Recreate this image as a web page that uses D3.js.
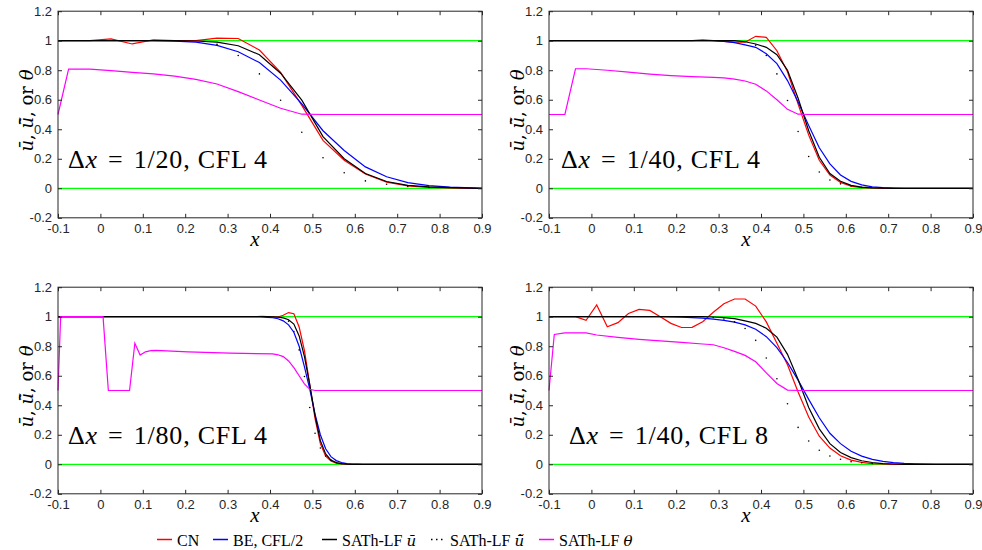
<!DOCTYPE html>
<html><head><meta charset="utf-8">
<script src="https://cdn.jsdelivr.net/npm/d3@7"></script>
<style>body{margin:0;background:#fff} svg{display:block}</style>
</head><body>
<script>
// ---------- axis ticks ----------
const xTicks = [-0.1, 0, 0.1, 0.2, 0.3, 0.4, 0.5, 0.6, 0.7, 0.8, 0.9];
const yTicks = [-0.2, 0, 0.2, 0.4, 0.6, 0.8, 1, 1.2];

// ---------- panel titles ----------
const panelDx = ["1/20", "1/40", "1/80", "1/40"];
const panelCfl = ["4", "4", "4", "8"];

// ---------- bounds (green) ----------
const boundLow = [[-0.1, 0], [0.9, 0]];
const boundHigh = [[-0.1, 1], [0.9, 1]];

// ---------- panel 1: dx = 1/20, CFL 4 ----------
const cn1 = [[-0.1,1],[-0.075,1],[-0.025,1],[0.025,1.012],[0.075,0.978],[0.125,1.005],[0.175,1.0],[0.225,1.0],[0.275,1.018],[0.325,1.015],[0.375,0.937],[0.425,0.785],[0.475,0.562],[0.525,0.325],[0.575,0.19],[0.625,0.097],[0.675,0.042],[0.725,0.016],[0.775,0.006],[0.825,0.002],[0.875,0.0],[0.9,0]];
const be1 = [[-0.1,1],[0.125,1.0],[0.175,0.997],[0.225,0.99],[0.275,0.968],[0.325,0.925],[0.375,0.852],[0.425,0.733],[0.475,0.572],[0.525,0.39],[0.575,0.256],[0.625,0.145],[0.675,0.078],[0.725,0.038],[0.775,0.018],[0.825,0.008],[0.875,0.003],[0.9,0]];
const sath1 = [[-0.1,1],[0.175,1.0],[0.225,0.998],[0.275,0.99],[0.325,0.966],[0.375,0.905],[0.425,0.78],[0.475,0.597],[0.525,0.35],[0.575,0.2],[0.625,0.1],[0.675,0.046],[0.725,0.02],[0.775,0.009],[0.825,0.004],[0.875,0.001],[0.9,0]];
const tilde1 = [[0.275,0.975],[0.325,0.9],[0.375,0.775],[0.425,0.597],[0.475,0.38],[0.525,0.207],[0.575,0.105],[0.625,0.05],[0.675,0.027],[0.725,0.012],[0.775,0.006]];
const theta1 = [[-0.1,0.5],[-0.075,0.808],[-0.025,0.808],[0.025,0.797],[0.075,0.785],[0.125,0.775],[0.175,0.76],[0.225,0.738],[0.275,0.707],[0.325,0.655],[0.375,0.598],[0.425,0.542],[0.475,0.502],[0.525,0.5],[0.9,0.5]];

// ---------- panel 2: dx = 1/40, CFL 4 ----------
const cn2 = [[-0.1,1],[0.2375,1.0],[0.2625,1.005],[0.2875,1.0],[0.3125,0.995],[0.3375,0.99],[0.3625,0.99],[0.3875,1.03],[0.4125,1.023],[0.4375,0.932],[0.4625,0.79],[0.4875,0.57],[0.5125,0.36],[0.5375,0.19],[0.5625,0.09],[0.5875,0.04],[0.6125,0.015],[0.6375,0.005],[0.6625,0.002],[0.6875,0],[0.9,0]];
const be2 = [[-0.1,1],[0.2875,1.0],[0.3125,0.995],[0.3375,0.987],[0.3625,0.972],[0.3875,0.955],[0.4125,0.912],[0.4375,0.845],[0.4625,0.73],[0.4875,0.585],[0.5125,0.425],[0.5375,0.275],[0.5625,0.165],[0.5875,0.09],[0.6125,0.047],[0.6375,0.023],[0.6625,0.01],[0.6875,0.004],[0.7125,0.002],[0.7375,0],[0.9,0]];
const sath2 = [[-0.1,1],[0.3375,1.0],[0.3625,0.993],[0.3875,0.978],[0.4125,0.955],[0.4375,0.905],[0.4625,0.8],[0.4875,0.61],[0.5125,0.39],[0.5375,0.21],[0.5625,0.1],[0.5875,0.048],[0.6125,0.02],[0.6375,0.008],[0.6625,0.003],[0.6875,0.001],[0.7125,0],[0.9,0]];
const tilde2 = [[0.3875,0.97],[0.4125,0.9],[0.4375,0.775],[0.4625,0.595],[0.4875,0.385],[0.5125,0.215],[0.5375,0.11],[0.5625,0.056],[0.5875,0.03],[0.6125,0.015],[0.6375,0.007]];
const theta2 = [[-0.1,0.5],[-0.0625,0.5],[-0.0375,0.81],[-0.0125,0.81],[0.0375,0.8],[0.0875,0.787],[0.1375,0.774],[0.1875,0.764],[0.2375,0.757],[0.2875,0.752],[0.3125,0.748],[0.3375,0.74],[0.3625,0.727],[0.3875,0.705],[0.4125,0.66],[0.4375,0.6],[0.4625,0.535],[0.4875,0.502],[0.5125,0.5],[0.9,0.5]];

// ---------- panel 3: dx = 1/80, CFL 4 ----------
const cn3 = [[-0.1,1],[0.36875,1.0],[0.38125,1.003],[0.39375,1.0],[0.41875,0.998],[0.43125,1.01],[0.44375,1.028],[0.45625,1.02],[0.46875,0.93],[0.48125,0.77],[0.49375,0.54],[0.50625,0.31],[0.51875,0.14],[0.53125,0.055],[0.54375,0.022],[0.55625,0.008],[0.56875,0.003],[0.58125,0.001],[0.59375,0],[0.9,0]];
const be3 = [[-0.1,1],[0.36875,1.0],[0.38125,0.998],[0.39375,0.996],[0.40625,0.993],[0.41875,0.986],[0.43125,0.972],[0.44375,0.945],[0.45625,0.895],[0.46875,0.8],[0.48125,0.66],[0.49375,0.51],[0.50625,0.34],[0.51875,0.2],[0.53125,0.105],[0.54375,0.052],[0.55625,0.025],[0.56875,0.012],[0.58125,0.005],[0.59375,0.002],[0.60625,0.001],[0.61875,0],[0.9,0]];
const sath3 = [[-0.1,1],[0.39375,1.0],[0.40625,0.999],[0.41875,0.997],[0.43125,0.992],[0.44375,0.98],[0.45625,0.95],[0.46875,0.87],[0.48125,0.73],[0.49375,0.54],[0.50625,0.33],[0.51875,0.16],[0.53125,0.07],[0.54375,0.028],[0.55625,0.011],[0.56875,0.004],[0.58125,0.001],[0.59375,0],[0.9,0]];
const tilde3 = [[0.44375,0.97],[0.45625,0.9],[0.46875,0.775],[0.48125,0.595],[0.49375,0.385],[0.50625,0.21],[0.51875,0.11],[0.53125,0.056],[0.54375,0.028],[0.55625,0.012],[0.56875,0.005]];
const theta3 = [[-0.1,0.5],[-0.09375,1.0],[0.00625,1.0],[0.01875,0.5],[0.06875,0.5],[0.08125,0.82],[0.09375,0.74],[0.10625,0.762],[0.11875,0.77],[0.13125,0.772],[0.20625,0.762],[0.30625,0.753],[0.40625,0.748],[0.41875,0.742],[0.43125,0.73],[0.44375,0.7],[0.45625,0.655],[0.46875,0.6],[0.48125,0.545],[0.49375,0.508],[0.50625,0.5],[0.9,0.5]];

// ---------- panel 4: dx = 1/40, CFL 8 ----------
const cn4 = [[-0.1,1],[-0.0375,1.0],[-0.0125,0.975],[0.0125,1.08],[0.0375,0.932],[0.0625,0.96],[0.0875,1.022],[0.1125,1.05],[0.1375,1.043],[0.1625,1.0],[0.1875,0.955],[0.2125,0.927],[0.2375,0.928],[0.2625,0.966],[0.2875,1.03],[0.3125,1.088],[0.3375,1.12],[0.3625,1.12],[0.3875,1.072],[0.4125,0.965],[0.4375,0.82],[0.4625,0.675],[0.4875,0.49],[0.5125,0.32],[0.5375,0.19],[0.5625,0.11],[0.5875,0.058],[0.6125,0.028],[0.6375,0.013],[0.6625,0.005],[0.6875,0.002],[0.7125,0],[0.9,0]];
const be4 = [[-0.1,1],[0.1625,1.0],[0.2125,0.997],[0.2625,0.99],[0.2875,0.984],[0.3125,0.975],[0.3375,0.963],[0.3625,0.945],[0.3875,0.915],[0.4125,0.865],[0.4375,0.79],[0.4625,0.69],[0.4875,0.57],[0.5125,0.44],[0.5375,0.315],[0.5625,0.21],[0.5875,0.14],[0.6125,0.088],[0.6375,0.055],[0.6625,0.033],[0.6875,0.02],[0.7125,0.011],[0.7375,0.006],[0.7625,0.003],[0.7875,0.001],[0.8125,0],[0.9,0]];
const sath4 = [[-0.1,1],[0.2625,1.0],[0.2875,0.998],[0.3125,0.994],[0.3375,0.987],[0.3625,0.972],[0.3875,0.955],[0.4125,0.922],[0.4375,0.862],[0.4625,0.745],[0.4875,0.575],[0.5125,0.385],[0.5375,0.24],[0.5625,0.14],[0.5875,0.08],[0.6125,0.045],[0.6375,0.024],[0.6625,0.012],[0.6875,0.005],[0.7125,0.002],[0.7375,0],[0.9,0]];
const tilde4 = [[0.2875,0.995],[0.3125,0.985],[0.3375,0.965],[0.3625,0.92],[0.3875,0.84],[0.4125,0.72],[0.4375,0.58],[0.4625,0.41],[0.4875,0.25],[0.5125,0.158],[0.5375,0.095],[0.5625,0.056],[0.5875,0.034],[0.6125,0.018],[0.6375,0.01],[0.6625,0.005]];
const theta4 = [[-0.1,0.5],[-0.0875,0.88],[-0.0625,0.89],[-0.0125,0.89],[0.0125,0.876],[0.0625,0.86],[0.1125,0.847],[0.1625,0.836],[0.2125,0.826],[0.2625,0.815],[0.2875,0.81],[0.3125,0.79],[0.3375,0.765],[0.3625,0.738],[0.3875,0.695],[0.4125,0.62],[0.4375,0.548],[0.4625,0.503],[0.4875,0.5],[0.9,0.5]];

// ---------- legend ----------
const legendNames = ["CN", "BE, CFL/2", "SATh-LF", "SATh-LF", "SATh-LF"];
const legendMath = ["", "", "u\u0304", "u\u0304\u0303", "\u03B8"];

// ---------- build ----------
const W = 982, H = 550;
const svg = d3.select("body").append("svg").attr("width", W).attr("height", H)
  .style("font-family", "'Liberation Sans', Arial, sans-serif");

const PW = 424, PH = 206.6;
const lefts = [58, 549, 58, 549], tops = [11.2, 11.2, 287.2, 287.2];
const annX = [10, 12, 10, 20];
const series = [
  [cn1, be1, sath1, tilde1, theta1],
  [cn2, be2, sath2, tilde2, theta2],
  [cn3, be3, sath3, tilde3, theta3],
  [cn4, be4, sath4, tilde4, theta4]
];
const colors = {cn: "#ff0000", be: "#0000ff", sath: "#000000", theta: "#ff00ff", bound: "#00ff00"};
const axisColor = "#262626";
const fmt = d => String(d);

const x = d3.scaleLinear().domain([-0.1, 0.9]).range([0, PW]);
const y = d3.scaleLinear().domain([-0.2, 1.2]).range([PH, 0]);
const line = d3.line().x(d => x(d[0])).y(d => y(d[1]));

series.forEach((s, i) => {
  const g = svg.append("g").attr("transform", `translate(${lefts[i]},${tops[i]})`);
  const [cn, be, sath, tilde, theta] = s;
  const plot = g.append("g");
  plot.append("path").datum(boundLow).attr("d", line).attr("fill", "none").attr("stroke", colors.bound).attr("stroke-width", 1.3);
  plot.append("path").datum(boundHigh).attr("d", line).attr("fill", "none").attr("stroke", colors.bound).attr("stroke-width", 1.3);
  plot.append("path").datum(cn).attr("d", line).attr("fill", "none").attr("stroke", colors.cn).attr("stroke-width", 1.2);
  plot.append("path").datum(be).attr("d", line).attr("fill", "none").attr("stroke", colors.be).attr("stroke-width", 1.2);
  plot.append("path").datum(sath).attr("d", line).attr("fill", "none").attr("stroke", colors.sath).attr("stroke-width", 1.2);
  plot.selectAll("circle.t").data(tilde).enter().append("circle").attr("class", "t")
    .attr("cx", d => x(d[0])).attr("cy", d => y(d[1])).attr("r", 0.8).attr("fill", "#000");
  plot.append("path").datum(theta).attr("d", line).attr("fill", "none").attr("stroke", colors.theta).attr("stroke-width", 1.2);

  // axes (ticks inward, box)
  const styleAxis = sel => {
    sel.select(".domain").remove();
    sel.selectAll(".tick line").attr("stroke", axisColor);
    sel.selectAll(".tick text").attr("fill", axisColor).style("font-size", "13px")
      .style("font-family", "'Liberation Sans', Arial, sans-serif");
  };
  g.append("g").attr("transform", `translate(0,${PH})`)
    .call(d3.axisBottom(x).tickValues(xTicks).tickFormat(fmt).tickSizeInner(-4).tickSizeOuter(0).tickPadding(6)).call(styleAxis);
  g.append("g")
    .call(d3.axisTop(x).tickValues(xTicks).tickFormat("").tickSizeInner(-4).tickSizeOuter(0)).call(styleAxis);
  g.append("g")
    .call(d3.axisLeft(y).tickValues(yTicks).tickFormat(fmt).tickSizeInner(-4).tickSizeOuter(0).tickPadding(6)).call(styleAxis);
  g.append("g").attr("transform", `translate(${PW},0)`)
    .call(d3.axisRight(y).tickValues(yTicks).tickFormat("").tickSizeInner(-4).tickSizeOuter(0)).call(styleAxis);
  g.append("rect").attr("x", 0).attr("y", 0).attr("width", PW).attr("height", PH)
    .attr("fill", "none").attr("stroke", axisColor).attr("stroke-width", 1);

  // x label
  g.append("text").attr("x", PW / 2 - 15).attr("y", PH + 28).attr("text-anchor", "middle")
    .style("font-family", "'Liberation Serif', serif").style("font-style", "italic").style("font-size", "21px")
    .text("x");

  // y label
  const yl = g.append("text").attr("transform", `translate(-25,${PH / 2 - 4}) rotate(-90)`)
    .attr("text-anchor", "middle").style("font-family", "'DejaVu Serif', serif").style("font-size", "18px");
  yl.append("tspan").style("font-style", "italic").text("u\u0304");
  yl.append("tspan").text(", ");
  yl.append("tspan").style("font-style", "italic").text("u\u0304\u0303");
  yl.append("tspan").text(", or ");
  yl.append("tspan").style("font-style", "italic").text("\u03B8");

  // annotation
  const an = g.append("text").attr("x", annX[i]).attr("y", 157)
    .attr("textLength", 199).attr("lengthAdjust", "spacing")
    .style("font-family", "'Liberation Serif', serif").style("font-size", "26px").attr("fill", "#000");
  an.append("tspan").text("\u0394");
  an.append("tspan").style("font-style", "italic").text("x");
  an.append("tspan").attr("dx", 3).text(` = `);
  an.append("tspan").attr("dx", 3).text(`${panelDx[i]}, CFL ${panelCfl[i]}`);
});

// legend
const leg = svg.append("g").style("font-family", "'Liberation Serif', serif").style("font-size", "16px");
const legLineX = [157, 213, 322, 430, 539];
const legColors = [colors.cn, colors.be, colors.sath, "#000", colors.theta];
legendNames.forEach((n, i) => {
  const lx = legLineX[i];
  const l = leg.append("line").attr("x1", lx).attr("x2", lx + 15).attr("y1", 539.5).attr("y2", 539.5)
    .attr("stroke", legColors[i]).attr("stroke-width", 1.5);
  if (i === 3) l.attr("stroke-dasharray", "1.5,3.5").attr("x1", lx + 1).attr("stroke-width", 1.6);
  const t = leg.append("text").attr("x", lx + 20).attr("y", 545.5);
  t.append("tspan").text(n + (legendMath[i] ? " " : ""));
  if (legendMath[i]) t.append("tspan").style("font-style", "italic").style("font-family", "'DejaVu Serif', serif").style("font-size", "15px").text(legendMath[i]);
});
</script>
</body></html>
